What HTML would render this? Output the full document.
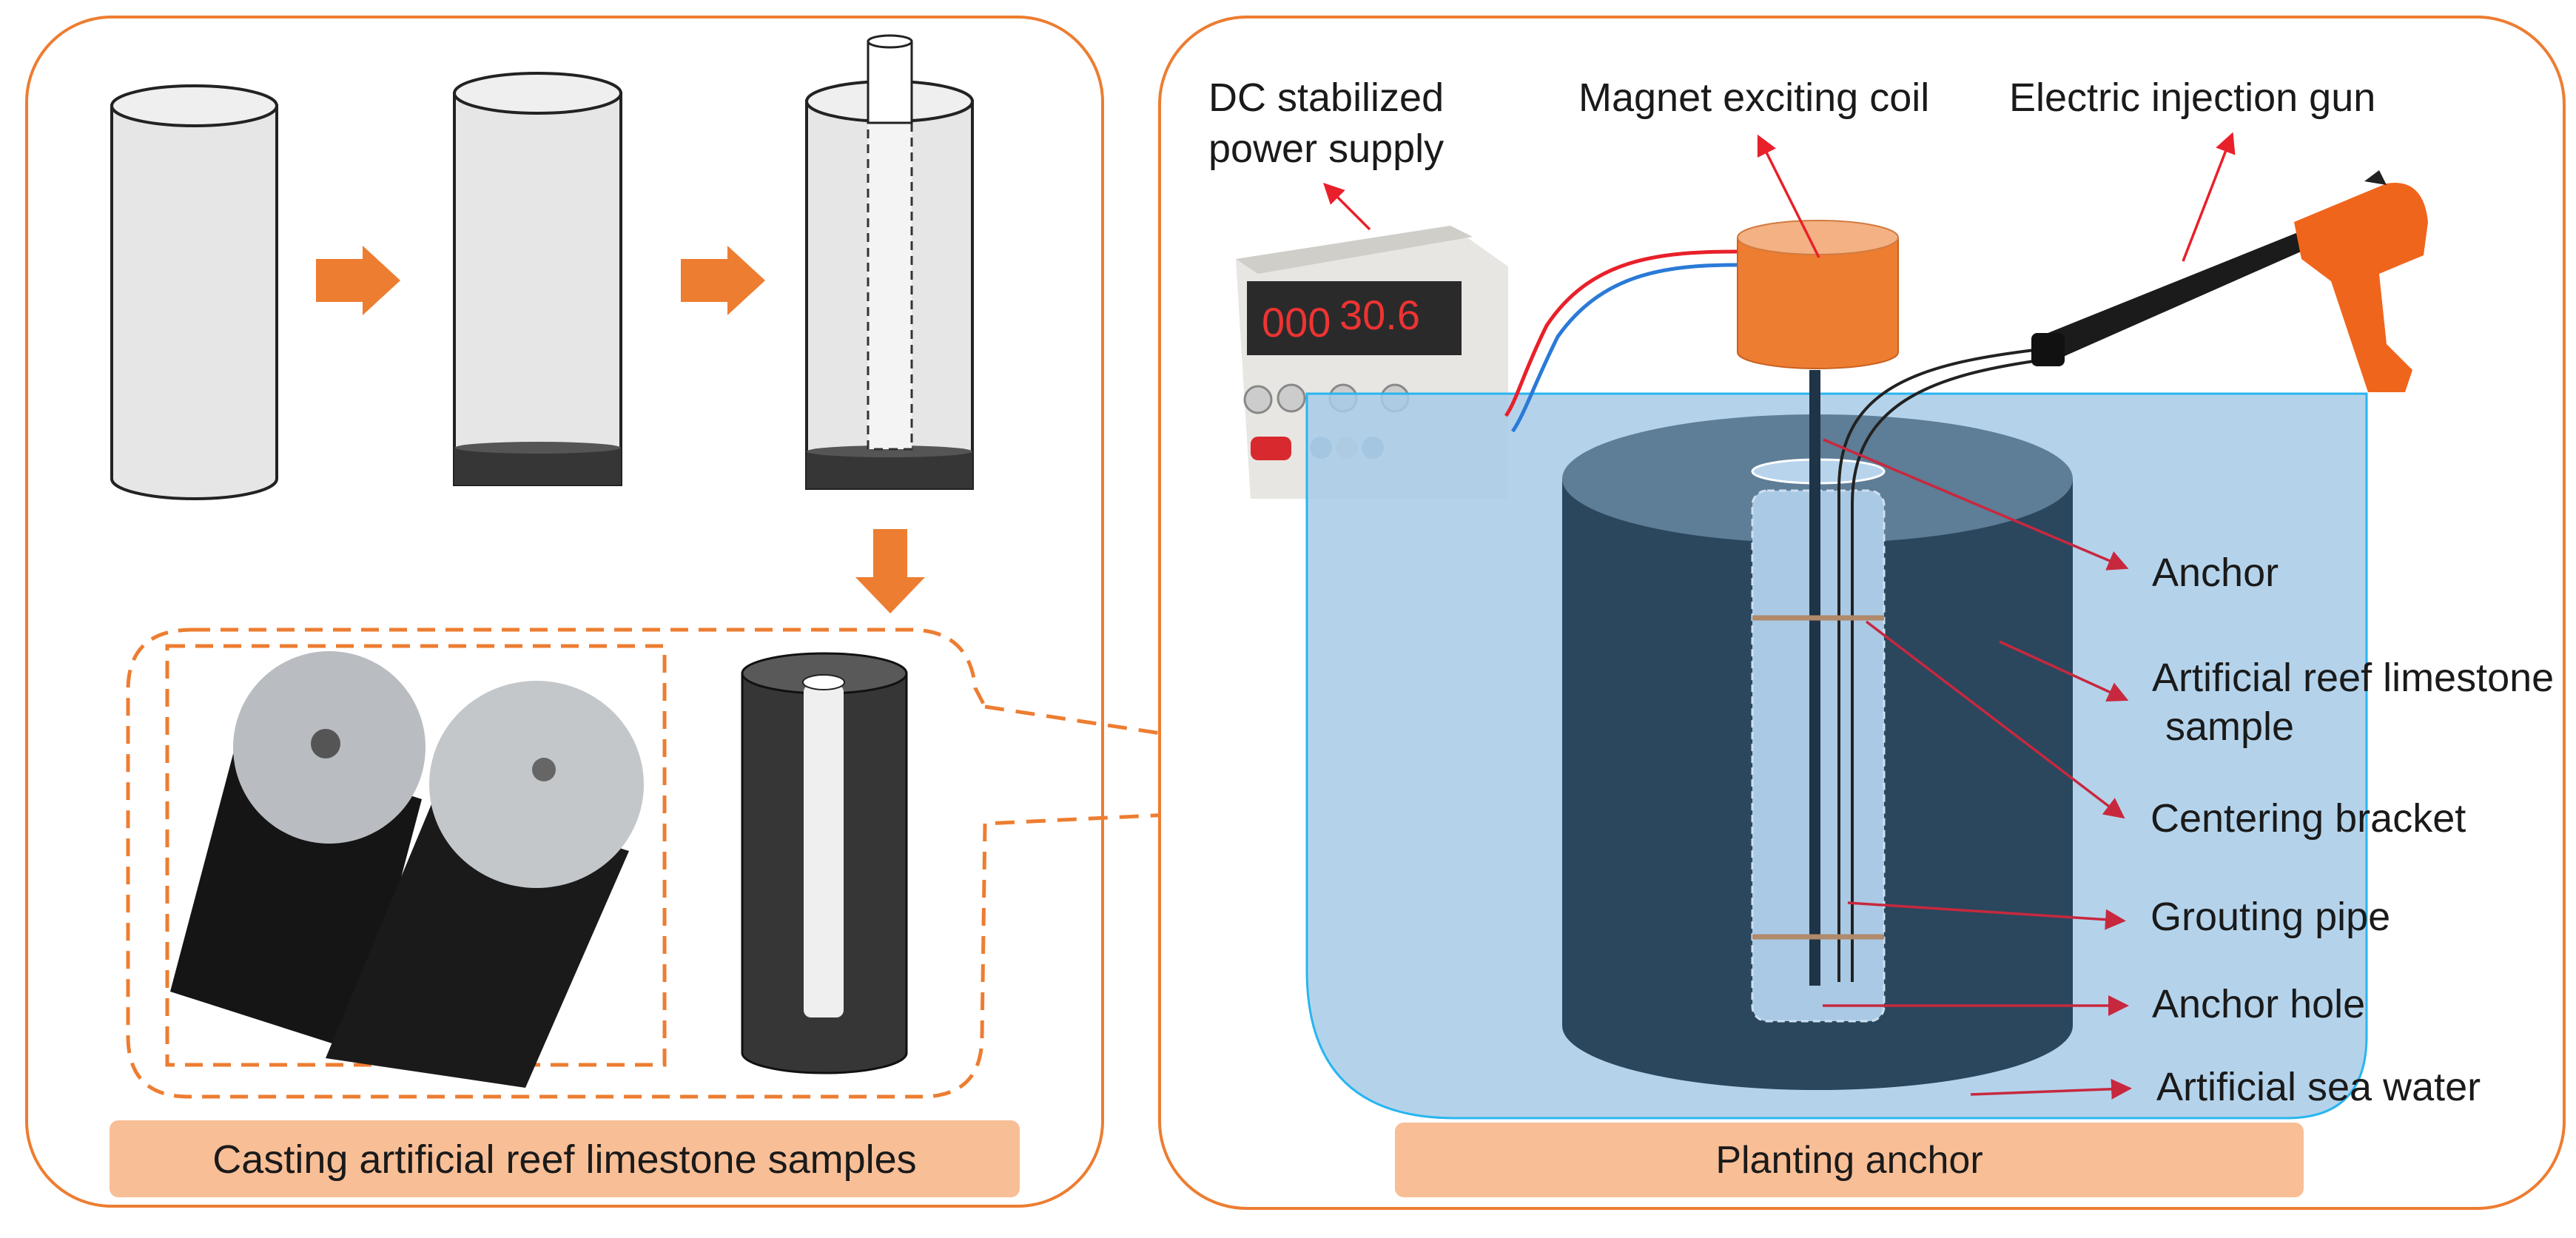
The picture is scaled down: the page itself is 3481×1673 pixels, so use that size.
<!DOCTYPE html>
<html><head><meta charset="utf-8"><style>
html,body{margin:0;padding:0;background:#fff}
svg{display:block}
text{font-family:"Liberation Sans",Arial,sans-serif;fill:#1a1a1a}
</style></head><body>
<svg width="3481" height="1673" viewBox="0 0 3481 1673" xmlns="http://www.w3.org/2000/svg">
<defs>
<marker id="ar" markerWidth="8" markerHeight="8" refX="6" refY="4" orient="auto" markerUnits="strokeWidth"><path d="M0,0 L8,4 L0,8 z" fill="#e8202a"/></marker>
<marker id="ad" markerWidth="8" markerHeight="8" refX="6" refY="4" orient="auto" markerUnits="strokeWidth"><path d="M0,0 L8,4 L0,8 z" fill="#c8283e"/></marker>
</defs>
<!-- Left panel -->
<rect x="36" y="23" width="1454" height="1607" rx="115" fill="#fff" stroke="#ED7D31" stroke-width="4"/>
<path d="M151,143 L151,647 A111.5,27 0 0 0 374,647 L374,143 Z" fill="#e6e6e6" stroke="#222" stroke-width="4"/>
<ellipse cx="262.5" cy="143" rx="111.5" ry="27" fill="#efefef" stroke="#222" stroke-width="4"/>
<polygon points="427,350 490,350 490,332 541,379 490,426 490,408 427,408" fill="#ED7D31"/>
<path d="M614,126 L614,655 L839,655 L839,126 Z" fill="#e6e6e6" stroke="#222" stroke-width="4"/>
<rect x="614" y="605" width="225" height="50" fill="#363636"/>
<ellipse cx="726.5" cy="605" rx="112" ry="8" fill="#555"/>
<ellipse cx="726.5" cy="126" rx="112.5" ry="27" fill="#efefef" stroke="#222" stroke-width="4"/>
<polygon points="920,350 983,350 983,332 1034,379 983,426 983,408 920,408" fill="#ED7D31"/>
<path d="M1090,137 L1090,660 L1314,660 L1314,137 Z" fill="#e6e6e6" stroke="#222" stroke-width="4"/>
<rect x="1090" y="610" width="224" height="50" fill="#363636"/>
<ellipse cx="1202" cy="610" rx="112" ry="8" fill="#555"/>
<ellipse cx="1202" cy="137" rx="112" ry="27" fill="#efefef" stroke="#222" stroke-width="4"/>
<rect x="1173" y="165" width="59" height="442" fill="#f4f4f4" stroke="#333" stroke-width="3" stroke-dasharray="12,8"/>
<rect x="1173" y="56" width="59" height="110" fill="#fff" stroke="#222" stroke-width="3"/>
<ellipse cx="1202.5" cy="56" rx="29.5" ry="8" fill="#fff" stroke="#222" stroke-width="3"/>
<polygon points="1180,715 1226,715 1226,780 1250,780 1203,829 1156,780 1180,780" fill="#ED7D31"/>
<path d="M1331,955 L2123,1075 L1331,1113" fill="none" stroke="#ED7D31" stroke-width="5" stroke-dasharray="26,16"/>
<path d="M260,851 L1230,851 Q1310,851 1318,930 L1331,955 M1331,1113 L1327,1400 Q1327,1482 1245,1482 L255,1482 Q173,1482 173,1400 L173,933 Q173,851 260,851" fill="none" stroke="#ED7D31" stroke-width="5" stroke-dasharray="24,14"/>
<rect x="226" y="873" width="672" height="566" fill="none" stroke="#ED7D31" stroke-width="5" stroke-dasharray="24,14"/>
<g>
<path d="M230,1340 L320,1000 L570,1080 L480,1420 Z" fill="#151515"/>
<path d="M440,1430 L590,1070 L850,1150 L710,1470 Z" fill="#1a1a1a"/>
<ellipse cx="445" cy="1010" rx="130" ry="130" fill="#b9bcc0"/>
<ellipse cx="725" cy="1060" rx="145" ry="140" fill="#c4c7ca"/>
<circle cx="440" cy="1005" r="20" fill="#555"/>
<circle cx="735" cy="1040" r="16" fill="#666"/>
</g>
<path d="M1003,910 L1003,1423 A111,27 0 0 0 1225,1423 L1225,910 Z" fill="#363636" stroke="#111" stroke-width="3"/>
<ellipse cx="1114" cy="910" rx="111" ry="27" fill="#595959" stroke="#111" stroke-width="3"/>
<rect x="1086" y="925" width="54" height="450" rx="10" fill="#efefef"/>
<ellipse cx="1113" cy="922" rx="28" ry="10" fill="#fff" stroke="#222" stroke-width="2"/>
<rect x="148" y="1514" width="1230" height="104" rx="12" fill="#F8BE96"/>
<text x="763" y="1585" font-size="54" text-anchor="middle">Casting artificial reef limestone samples</text>

<!-- Right panel -->
<rect x="1567" y="23" width="1898" height="1610" rx="118" fill="#fff" stroke="#ED7D31" stroke-width="4"/>
<text x="1633" y="150" font-size="54">DC stabilized</text>
<text x="1633" y="219" font-size="54">power supply</text>
<text x="2133" y="150" font-size="54">Magnet exciting coil</text>
<text x="2715" y="150" font-size="54">Electric injection gun</text>
<g>
<polygon points="1670,350 1960,305 2038,360 2038,674 1690,674" fill="#e8e6e2"/>
<polygon points="1670,350 1960,305 1990,320 1700,370" fill="#d0cec9"/>
<rect x="1685" y="380" width="290" height="100" fill="#2a2a2a"/>
<text x="1705" y="455" font-size="56" style="fill:#e33">000</text>
<text x="1810" y="445" font-size="56" style="fill:#e33">30.6</text>
<circle cx="1700" cy="540" r="18" fill="#ccc" stroke="#888" stroke-width="3"/>
<circle cx="1745" cy="538" r="18" fill="#ccc" stroke="#888" stroke-width="3"/>
<circle cx="1815" cy="538" r="18" fill="#ccc" stroke="#888" stroke-width="3"/>
<circle cx="1885" cy="538" r="18" fill="#ccc" stroke="#888" stroke-width="3"/>
<rect x="1690" y="590" width="55" height="32" rx="10" fill="#d8292f"/>
<circle cx="1785" cy="605" r="15" fill="#9ab"/><circle cx="1820" cy="605" r="15" fill="#ccc"/><circle cx="1855" cy="605" r="15" fill="#9ab"/>
</g>
<path d="M1766,532 L3198,532 L3198,1400 Q3198,1511 3090,1511 L1966,1511 Q1766,1511 1766,1311 Z" fill="#a7cbe8" fill-opacity="0.85" stroke="#29B5F0" stroke-width="3"/>
<path d="M2348,340 C2240,340 2150,350 2090,440 C2060,500 2050,540 2035,562" fill="none" stroke="#e8202a" stroke-width="5"/>
<path d="M2348,358 C2250,358 2165,370 2105,455 C2075,515 2060,560 2044,583" fill="none" stroke="#2a7ad8" stroke-width="5"/>
<path d="M2111,647 L2111,1386 A345,87 0 0 0 2801,1386 L2801,647 Z" fill="#2a475e"/>
<ellipse cx="2456" cy="647" rx="345" ry="87" fill="#5e7d96"/>
<ellipse cx="2457" cy="637" rx="89" ry="16" fill="#b8d4ec" stroke="#fff" stroke-width="3"/>
<rect x="2368" y="663" width="178" height="717" rx="20" fill="#a9c9e4" stroke="#cfe0ef" stroke-width="3" stroke-dasharray="10,6"/>
<path d="M2348,321 L2348,476 A108.5,22 0 0 0 2565,476 L2565,321 Z" fill="#ED7D31" stroke="#c96020" stroke-width="2"/>
<ellipse cx="2456.5" cy="321" rx="108.5" ry="23" fill="#F4B183" stroke="#d27a40" stroke-width="2"/>
<rect x="2445" y="500" width="15" height="832" fill="#1f3447"/>
<path d="M2766,471 C2600,490 2485,520 2485,660 L2485,1327" fill="none" stroke="#222" stroke-width="4"/>
<path d="M2770,485 C2620,505 2503,540 2503,680 L2503,1327" fill="none" stroke="#222" stroke-width="4"/>
<line x1="2368" y1="835" x2="2546" y2="835" stroke="#b08a6a" stroke-width="7"/>
<line x1="2368" y1="1266" x2="2546" y2="1266" stroke="#b08a6a" stroke-width="7"/>
<g>
<polygon points="2755,455 3140,300 3150,322 2770,490" fill="#1b1b1b"/>
<rect x="2745" y="450" width="45" height="45" rx="8" fill="#111"/>
<path d="M3100,300 L3225,248 Q3275,240 3281,300 L3275,345 L3215,370 L3225,465 L3260,500 L3250,530 L3200,530 L3180,470 L3150,380 L3110,350 Z" fill="#f0651c"/>
<polygon points="3195,245 3215,230 3225,250" fill="#222"/>
</g>
<line x1="1851" y1="310" x2="1793" y2="252" stroke="#e8202a" stroke-width="3.5" marker-end="url(#ar)"/>
<line x1="2458" y1="348" x2="2378" y2="188" stroke="#e8202a" stroke-width="3.5" marker-end="url(#ar)"/>
<line x1="2950" y1="353" x2="3015" y2="185" stroke="#e8202a" stroke-width="3.5" marker-end="url(#ar)"/>
<g stroke="#c8283e" stroke-width="3.5" fill="none">
<line x1="2464" y1="594" x2="2870" y2="766" marker-end="url(#ad)"/>
<line x1="2702" y1="867" x2="2870" y2="944" marker-end="url(#ad)"/>
<line x1="2522" y1="840" x2="2866" y2="1102" marker-end="url(#ad)"/>
<line x1="2497" y1="1220" x2="2866" y2="1244" marker-end="url(#ad)"/>
<line x1="2463" y1="1359" x2="2870" y2="1359" marker-end="url(#ad)"/>
<line x1="2663" y1="1479" x2="2874" y2="1471" marker-end="url(#ad)"/>
</g>
<text x="2908" y="792" font-size="54">Anchor</text>
<text x="2908" y="934" font-size="54">Artificial reef limestone</text>
<text x="2926" y="1000" font-size="54">sample</text>
<text x="2906" y="1124" font-size="54">Centering bracket</text>
<text x="2906" y="1257" font-size="54">Grouting pipe</text>
<text x="2908" y="1375" font-size="54">Anchor hole</text>
<text x="2914" y="1487" font-size="54">Artificial sea water</text>
<rect x="1885" y="1517" width="1228" height="101" rx="12" fill="#F8BE96"/>
<text x="2499" y="1585" font-size="52" text-anchor="middle">Planting anchor</text>
</svg>
</body></html>
